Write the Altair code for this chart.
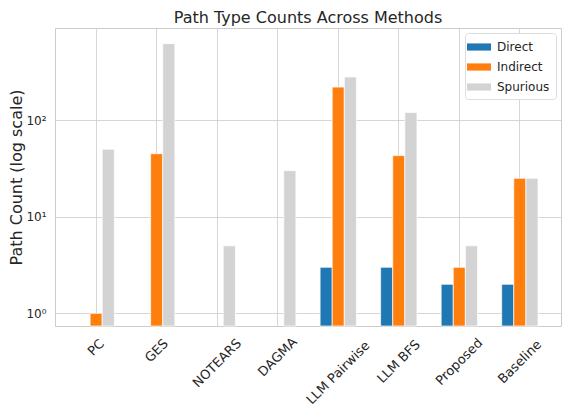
import altair as alt
import pandas as pd

FONT = "DejaVu Sans"
INK = "#262626"

methods = ["PC", "GES", "NOTEARS", "DAGMA", "LLM Pairwise", "LLM BFS", "Proposed", "Baseline"]
path_types = ["Direct", "Indirect", "Spurious"]
colors = ["#1f77b4", "#ff7f0e", "#d3d3d3"]

# path counts per method (0 = no bar, log scale)
direct = [0, 0, 0, 0, 3, 3, 2, 2]
indirect = [1, 45, 0, 0, 220, 43, 3, 25]
spurious = [50, 620, 5, 30, 280, 120, 5, 25]

rows = []
for t, vals in zip(path_types, [direct, indirect, spurious]):
    for m, v in zip(methods, vals):
        if v > 0:
            rows.append({"method": m, "type": t, "count": v})
df = pd.DataFrame(rows)

W, H = 506, 298

x_enc = alt.X(
    "method:N", sort=methods,
    scale=alt.Scale(domain=methods, paddingInner=0.4, paddingOuter=0.38),
    axis=alt.Axis(title=None, labels=False, ticks=False, domain=False,
                  grid=True, bandPosition=0.5),
)

bars = alt.Chart(df).mark_bar(stroke="white", strokeWidth=0.7).encode(
    x=x_enc,
    xOffset=alt.XOffset("type:N", sort=path_types, scale=alt.Scale(domain=path_types)),
    y=alt.Y(
        "count:Q", stack=None,
        scale=alt.Scale(type="log", domain=[0.74, 900], nice=False),
        axis=alt.Axis(
            title="Path Count (log scale)", values=[1, 10, 100],
            labelExpr="datum.value == 1 ? '10⁰' : datum.value == 10 ? '10¹' : '10²'",
            ticks=False, tickSize=0, domain=False, labelPadding=9, labelFontSize=12,
            titleFontSize=16, titleFontWeight="normal", titlePadding=1,
        ),
    ),
    color=alt.Color(
        "type:N",
        scale=alt.Scale(domain=path_types, range=colors),
        legend=alt.Legend(
            title=None, orient="top-right", offset=5, padding=6,
            fillColor="white", strokeColor="#dddddd", cornerRadius=3,
            symbolType="M-1.5,-0.45H1.5V0.45H-1.5Z", symbolSize=256, symbolStrokeWidth=0,
            labelFontSize=12, labelFont=FONT, labelColor=INK,
            rowPadding=6, labelOffset=10,
        ),
    ),
)

# rotated category labels, centred on the tick like matplotlib's rotation=45;
# dx/dy act in the rotated frame, so a straight drop L is (-L, L) / sqrt(2)
labels = alt.Chart(pd.DataFrame({"method": methods})).transform_calculate(
    up="length(replace(datum.method, regexp('[^A-Z]', 'g'), ''))",
    sp="length(replace(datum.method, regexp('[^ ]', 'g'), ''))",
).transform_calculate(
    em="0.68 * datum.up + 0.32 * datum.sp + 0.54 * (length(datum.method) - datum.up - datum.sp)",
).transform_calculate(
    lift="(15.5 + 4.6 * datum.em) / sqrt(2)",
).mark_text(
    angle=315, align="center", baseline="middle", fontSize=13, font=FONT,
    color=INK, dx=alt.expr("-datum.lift"), dy=alt.expr("datum.lift"),
).encode(
    x=x_enc,
    y=alt.value(H),
    text="method:N",
)

chart = alt.layer(bars, labels).properties(
    width=W, height=H,
    title=alt.Title("Path Type Counts Across Methods", fontSize=16, font=FONT,
                    fontWeight="normal", color=INK, offset=2, frame="group"),
    padding={"left": 47, "top": 20, "right": 1, "bottom": 84},
    autosize=alt.AutoSizeParams(type="none"),
).configure_view(
    stroke="#cccccc", strokeWidth=1
).configure_axis(
    gridColor="#cccccc", gridWidth=0.8, labelColor=INK, titleColor=INK,
    labelFont=FONT, titleFont=FONT,
)

chart.save("out.html", embed_options={"renderer": "svg", "actions": False})
